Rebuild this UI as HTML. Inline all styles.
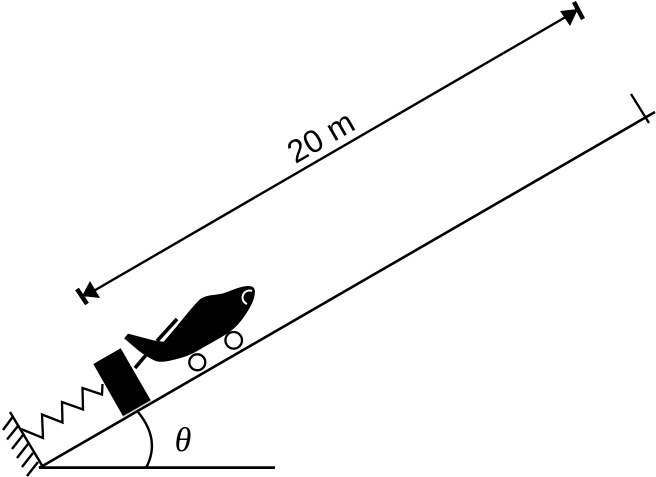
<!DOCTYPE html>
<html><head><meta charset="utf-8"><style>html,body{margin:0;padding:0;background:#fff}svg{display:block}</style></head><body>
<svg width="656" height="477" viewBox="0 0 656 477" xmlns="http://www.w3.org/2000/svg">
<g fill="none" stroke="#000" stroke-linejoin="miter">
<path d="M39 468L655 112" stroke-width="2.600"/>
<path d="M631 94L649 123" stroke-width="2.300"/>
<path d="M39 467.600H275" stroke-width="2.800"/>
<path d="M138 412Q161 440 146 468" stroke-width="2.400"/>
<path d="M10 412L43 467" stroke-width="2.400"/>
<path d="M21 429L43 438L42 414.500L62.500 422.500L62 402L83 409.500L82.500 388L102 394.500L102.500 384" stroke-width="2.300"/>
<path d="M13 416.500L3 430M18 426L7 439.500M23 435L12 449M28 444L17 458M33 453L22 467M38 462L27 476" stroke-width="2.400"/>
<path d="M85 296L576 11" stroke-width="2.400"/>
<path d="M574 2L583 19M77 289L87 304" stroke-width="4.500"/>
<circle cx="197.300" cy="362.300" r="8" stroke-width="2.300"/>
<circle cx="233.700" cy="340.300" r="8.300" stroke-width="2.300"/>
<path d="M135 368L146 355" stroke-width="3.600"/>
<path d="M157 341L177 319" stroke-width="3.600"/>
</g>
<path d="M560 11L570 26L578 9Z"/>
<path d="M82 296L90 281L100 298Z"/>
<path d="M93.300 364L120.700 348.300L151 400.700L123.300 416.700Z"/>
<path d="M125 338.300L128.300 334.300L153.300 341L164 342.300L177.300 326.700C185 317 192 308 200 300C206 295 215 296 223.300 294C232 291 242 286 250 286.700C255 287 255 292 253.300 298.300C251 306 243 318 236.700 325C231 331 226 334 203.300 346.700C196 351 191 355 173.300 359.300C167 361 160 361.500 156 360.500C150 358 141 352 136.700 348.300Z" stroke="#000" stroke-width="1.200" stroke-linejoin="round"/>
<path d="M123 416.500L151 400.300" stroke="#bbb" stroke-width="0.800" fill="none"/>
<path d="M252 291A6.500 6.500 0 1 0 247 304" fill="none" stroke="#fff" stroke-width="2"/>
<text x="322" y="139" text-anchor="middle" transform="rotate(-30 322 139)" dominant-baseline="middle" font-family="'Liberation Sans',sans-serif" font-size="32" fill="#000">20 m</text>
<text x="183" y="451" text-anchor="middle" font-family="'Liberation Serif',serif" font-style="italic" font-size="34" fill="#000">θ</text>
</svg>
</body></html>
